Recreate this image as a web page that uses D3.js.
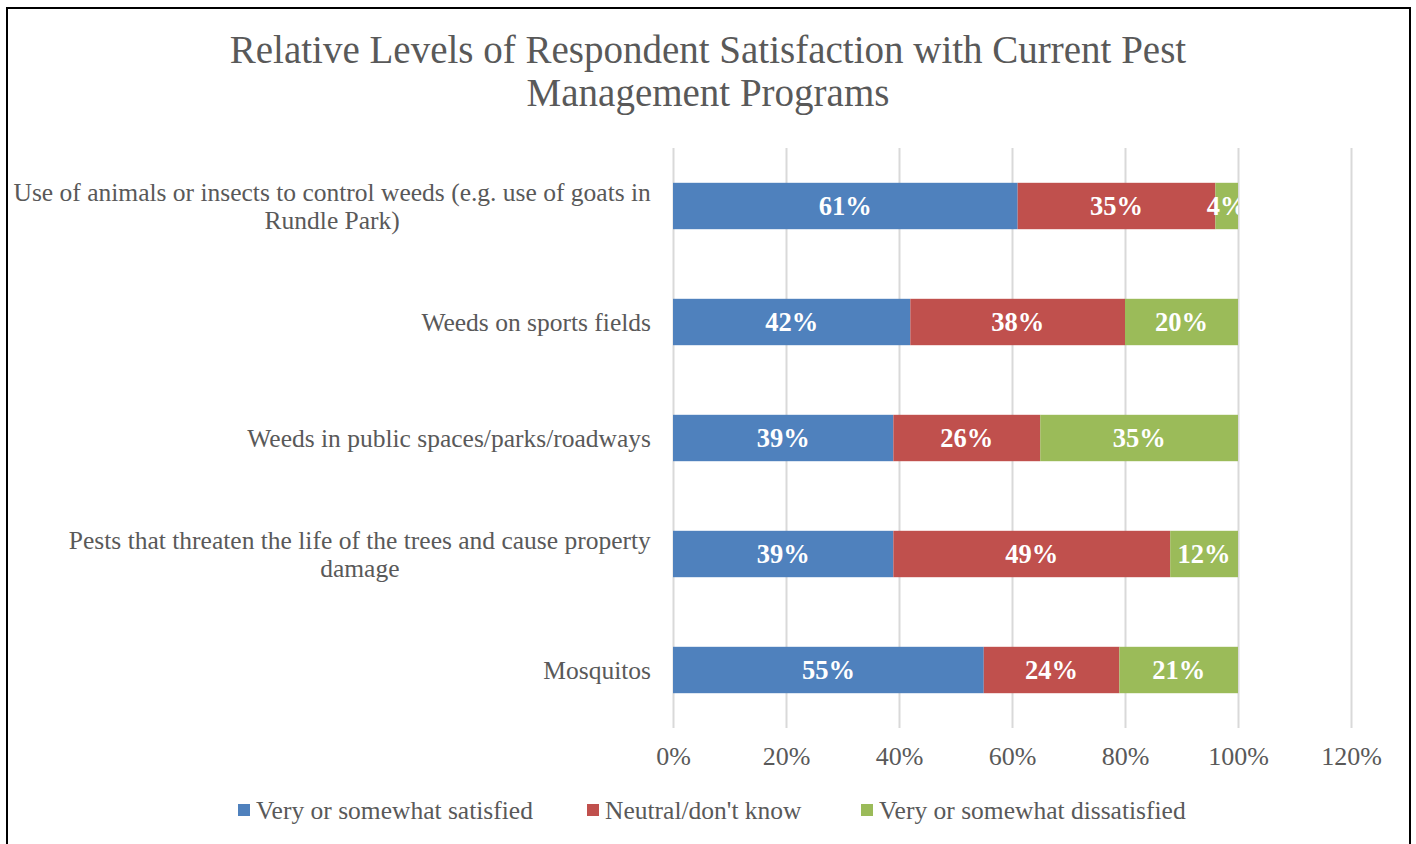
<!DOCTYPE html>
<html>
<head>
<meta charset="utf-8">
<script src="https://cdn.jsdelivr.net/npm/d3@7"></script>
<style>
  body { margin: 0; background: #fff; }
  text { font-family: "Liberation Serif", serif; }
</style>
</head>
<body>
<div id="chart"></div>
<script>
      var categories = [
        ["Use of animals or insects to control weeds (e.g. use of goats in", "Rundle Park)"],
        ["Weeds on sports fields"],
        ["Weeds in public spaces/parks/roadways"],
        ["Pests that threaten the life of the trees and cause property", "damage"],
        ["Mosquitos"]
      ];
      var seriesNames = ["Very or somewhat satisfied", "Neutral/don't know", "Very or somewhat dissatisfied"];
      var satisfied   = [61, 42, 39, 39, 55];
      var neutral     = [35, 38, 26, 49, 24];
      var dissatisfied = [4, 20, 35, 12, 21];
      var xTicks = [0, 20, 40, 60, 80, 100, 120];
      var colors = ["#4F81BD", "#C0504D", "#9BBB59"];

      var W = 1416, H = 844;
      var svg = d3.select("#chart").append("svg")
          .attr("width", W)
          .attr("height", H);

      // outer border
      svg.append("rect")
          .attr("x", 7).attr("y", 8)
          .attr("width", 1403).attr("height", 850)
          .attr("fill", "none")
          .attr("stroke", "#000")
          .attr("stroke-width", 2);

      // title
      svg.append("text")
          .attr("text-anchor", "middle")
          .attr("fill", "#595959")
          .style("font-size", "39px")
          .selectAll("tspan")
          .data(["Relative Levels of Respondent Satisfaction with Current Pest", "Management Programs"])
          .enter().append("tspan")
          .attr("x", 708)
          .attr("y", function(d, i) { return 63 + i * 43; })
          .text(function(d) { return d; });

      var xScale = d3.scaleLinear().domain([0, 120]).range([673, 1351]);
      var yScale = d3.scaleBand()
          .domain(d3.range(categories.length))
          .range([148, 728])
          .paddingInner(0.6)
          .paddingOuter(0.3);

      // grid
      svg.append("g")
          .attr("transform", "translate(0,728)")
          .call(d3.axisBottom(xScale).tickValues(xTicks).tickSize(-580).tickFormat(""))
          .call(function(g) {
            g.select(".domain").remove();
            g.selectAll("line").attr("stroke", "#d9d9d9").attr("stroke-width", 2);
          });

      // tick labels
      svg.append("g")
          .attr("transform", "translate(0,728)")
          .call(d3.axisBottom(xScale).tickValues(xTicks).tickSize(0).tickPadding(19)
                .tickFormat(function(d) { return d + "%"; }))
          .call(function(g) {
            g.select(".domain").remove();
            g.selectAll("text").attr("fill", "#595959")
              .style("font-family", "Liberation Serif")
              .style("font-size", "26px");
          });

      var rows = categories.map(function(c, i) {
        return [satisfied[i], neutral[i], dissatisfied[i]];
      });

      svg.append("clipPath").attr("id", "plotclip")
          .append("rect").attr("x", 600).attr("y", 140)
          .attr("width", xScale(100) - 600).attr("height", 600);

      var rowG = svg.selectAll(".row").data(rows).enter().append("g")
          .attr("class", "row")
          .attr("clip-path", "url(#plotclip)");

      rowG.each(function(vals, i) {
        var g = d3.select(this);
        var start = 0;
        vals.forEach(function(v, k) {
          g.append("rect")
              .attr("x", xScale(start))
              .attr("y", yScale(i))
              .attr("width", xScale(start + v) - xScale(start))
              .attr("height", yScale.bandwidth())
              .attr("fill", colors[k]);
          g.append("text")
              .attr("x", (xScale(start) + xScale(start + v)) / 2)
              .attr("y", yScale(i) + yScale.bandwidth() / 2)
              .attr("dy", "0.35em")
              .attr("text-anchor", "middle")
              .attr("fill", "#fff")
              .style("font-weight", "bold")
              .style("font-size", "26.5px")
              .text(v + "%");
          start += v;
        });
      });

      // category labels: lines centred on each other, block right-aligned
      categories.forEach(function(lines, i) {
        var cy = yScale(i) + yScale.bandwidth() / 2;
        var t = svg.append("text")
            .attr("fill", "#595959")
            .style("font-size", "25.5px")
            .attr("text-anchor", "middle");
        var tsp = t.selectAll("tspan").data(lines).enter().append("tspan")
            .attr("x", 0)
            .attr("y", function(d, k) { return cy + (k - (lines.length - 1) / 2) * 28; })
            .attr("dy", "0.35em")
            .text(function(d) { return d; });
        var bw = t.node().getBBox().width;
        tsp.attr("x", 651 - bw / 2);
      });

      // legend
      var legendX = [238, 587, 861];
      var leg = svg.selectAll(".leg").data(seriesNames).enter().append("g")
          .attr("class", "leg")
          .attr("transform", function(d, i) { return "translate(" + legendX[i] + ",810)"; });
      leg.append("rect")
          .attr("x", 0).attr("y", -6)
          .attr("width", 12).attr("height", 12)
          .attr("fill", function(d, i) { return colors[i]; });
      leg.append("text")
          .attr("x", 18).attr("dy", "0.35em")
          .attr("fill", "#595959")
          .style("font-size", "25.5px")
          .text(function(d) { return d; });
</script>
</body>
</html>
